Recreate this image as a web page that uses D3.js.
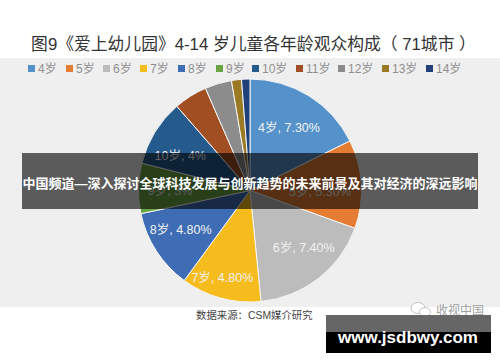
<!DOCTYPE html>
<html>
<head>
<meta charset="utf-8">
<style>
html, body { margin: 0; padding: 0; background: #fff; }
svg { display: block; }
text { font-family: "Liberation Sans", "Noto Sans CJK SC", sans-serif; }
</style>
<script src="https://cdn.jsdelivr.net/npm/d3@7"></script>
</head>
<body>
<svg id="vis"></svg>
<script>
/* Constantes */
const WIDTH = 500;
const HEIGHT = 362;
const CENTER = { x: 250, y: 190.5 };
const RADIUS = 111.5;

const AGES = ["4岁", "5岁", "6岁", "7岁", "8岁", "9岁", "10岁", "11岁", "12岁", "13岁", "14岁"];
const SHARES = [7.3, 5.3, 7.4, 4.8, 4.8, 3, 4, 2, 1.6, 0.6, 0.5];
const SHARE_LABELS = ["7.30%", "5.30%", "7.40%", "4.80%", "4.80%", "3%", "4%", "", "", "", ""];
const COLORS = ["#5592cb", "#e57c33", "#bcbcbc", "#f6bb1c", "#3f6db5", "#6aa544", "#255a8c", "#a04e22", "#8c8c8c", "#9a7a25", "#22407a"];

const CHART_TITLE = "图9《爱上幼儿园》4-14 岁儿童各年龄观众构成（ 71城市 ）";
const SOURCE = "数据来源：CSM媒介研究";
const WATERMARK = "收视中国";
const BANNER = "中国频道—深入探讨全球科技发展与创新趋势的未来前景及其对经济的深远影响";
const SITE = "www.jsdbwy.com";

// Layout: leyenda y ajuste de cada etiqueta
const LEGEND_X = [28, 66, 103, 140, 178, 216, 252, 296, 338, 382, 426];
const LABEL_R = [74, 70, 76, 90, 79, 80, 76, 0, 0, 0, 0];
const LABEL_DX = [0, 0, 7, -4, -3, 0, -5, 0, 0, 0, 0];
const LABEL_DY = [0, 5, -3, 0, -4, 2, 5, 0, 0, 0, 0];

const data = AGES.map((age, i) => ({
  age,
  share: SHARES[i],
  label: SHARE_LABELS[i],
  color: COLORS[i],
  labelR: LABEL_R[i],
  dx: LABEL_DX[i],
  dy: LABEL_DY[i]
}));

const svg = d3.select("#vis")
  .attr("width", WIDTH)
  .attr("height", HEIGHT);

// Fondo gris del grafico
svg.append("rect")
  .attr("x", 0).attr("y", 58)
  .attr("width", WIDTH).attr("height", 249)
  .attr("fill", "#efefef");

// Titulo
svg.append("text")
  .attr("x", 250.5).attr("y", 50)
  .attr("text-anchor", "middle")
  .attr("font-size", 16.8)
  .attr("font-family", "Noto Sans CJK SC")
  .attr("fill", "#333")
  .attr("transform", "translate(3 0)")
  .text(CHART_TITLE);

// Leyenda
const legend = svg.append("g")
  .selectAll("g")
  .data(data)
  .join("g")
  .attr("transform", (d, i) => `translate(${LEGEND_X[i]} 65)`);

legend.append("rect")
  .attr("width", 7).attr("height", 7)
  .attr("fill", d => d.color);

legend.append("text")
  .attr("x", 10).attr("y", 8)
  .attr("font-size", 12)
  .attr("fill", "#8f8f8f")
  .text(d => d.age);

// Pie
const pie = d3.pie().value(d => d.share).sort(null);
const arc = d3.arc().innerRadius(0).outerRadius(RADIUS);
const labelPos = d => d3.arc().innerRadius(d.data.labelR).outerRadius(d.data.labelR).centroid(d);

const pieG = svg.append("g")
  .attr("transform", `translate(${CENTER.x} ${CENTER.y})`);

pieG.selectAll("path")
  .data(pie(data))
  .join("path")
  .attr("d", arc)
  .attr("fill", d => d.data.color)
  .attr("stroke", "#f6f6f6")
  .attr("stroke-width", 1);

pieG.selectAll("text")
  .data(pie(data).filter(d => d.data.label))
  .join("text")
  .attr("transform", d => {
    const [x, y] = labelPos(d);
    return `translate(${x + d.data.dx} ${y + d.data.dy})`;
  })
  .attr("text-anchor", "middle")
  .attr("dy", "0.35em")
  .attr("font-size", 12.5)
  .attr("fill", "#f2f2f2")
  .text(d => `${d.data.age}, ${d.data.label}`);

// Fuente y marca de agua
svg.append("text")
  .attr("x", 196).attr("y", 319)
  .attr("font-size", 10.4)
  .attr("font-family", "Noto Sans CJK SC")
  .attr("fill", "#444")
  .text(SOURCE);

const wechat = svg.append("g")
  .attr("fill", "#fff")
  .attr("stroke", "#b5b5b5")
  .attr("stroke-width", 0.8);
wechat.append("ellipse").attr("cx", 418).attr("cy", 308).attr("rx", 7).attr("ry", 5.5);
wechat.append("ellipse").attr("cx", 425).attr("cy", 312).attr("rx", 5.5).attr("ry", 4.5);

svg.append("text")
  .attr("x", 436).attr("y", 314.5)
  .attr("font-size", 12)
  .attr("font-family", "Noto Sans CJK SC")
  .attr("fill", "#a0a0a0")
  .text(WATERMARK);

// Banda oscura con el titular
svg.append("rect")
  .attr("x", 22).attr("y", 153)
  .attr("width", 456).attr("height", 56)
  .attr("fill", "#000")
  .attr("fill-opacity", 0.62);

svg.append("text")
  .attr("x", 250).attr("y", 188)
  .attr("text-anchor", "middle")
  .attr("font-size", 13)
  .attr("font-weight", 700)
  .attr("font-family", "Noto Sans CJK SC")
  .attr("fill", "#fff")
  .text(BANNER);

// Sitio
svg.append("rect")
  .attr("x", 326).attr("y", 315)
  .attr("width", 165).attr("height", 38)
  .attr("fill", "#000");

svg.append("rect")
  .attr("x", 326).attr("y", 315)
  .attr("width", 165).attr("height", 17)
  .attr("fill", "#666");

svg.append("text")
  .attr("x", 408).attr("y", 342.5)
  .attr("text-anchor", "middle")
  .attr("font-size", 17)
  .attr("font-weight", 700)
  .attr("font-family", "Open Sans")
  .attr("fill", "#fff")
  .text(SITE);
</script>
</body>
</html>
